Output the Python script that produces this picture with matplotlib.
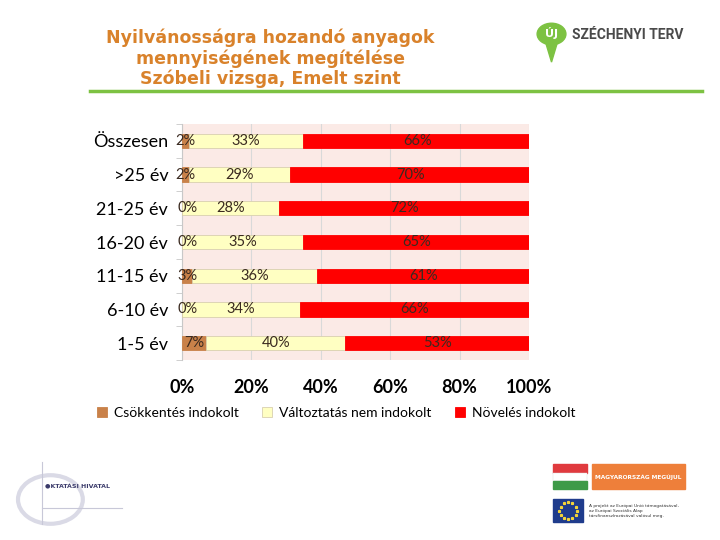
import matplotlib.pyplot as plt
import matplotlib.patches as mpatches
import numpy as np

categories = ["Összesen", ">25 év", "21-25 év", "16-20 év", "11-15 év", "6-10 év", "1-5 év"]
csokkentes = [2, 2, 0, 0, 3, 0, 7]
valtoztatas = [33, 29, 28, 35, 36, 34, 40]
noveles = [66, 70, 72, 65, 61, 66, 53]
series_names = ["Csökkentés indokolt", "Változtatás nem indokolt", "Növelés indokolt"]
xticks = [0, 20, 40, 60, 80, 100]

colors = ["#C98149", "#FFFFC2", "#FF0000"]
font = "Lato"

fig = plt.figure(figsize=(7.2, 5.4), dpi=100)
fig.patch.set_facecolor("white")

# title
fig.text(0.375, 0.892, "Nyilvánosságra hozandó anyagok\nmennyiségének megítélése\nSzóbeli vizsga, Emelt szint",
         ha="center", va="center", fontsize=12.5, fontweight="bold", color="#D9822B",
         family="DejaVu Sans", linespacing=1.12)

# green rule
fig.add_artist(plt.Line2D([0.125, 0.975], [0.832, 0.832], color="#7DC242", lw=2.5))

# logo
fig.add_artist(mpatches.Circle((0.766, 0.937), 0.02, transform=fig.transFigure, color="#7DC242"))
fig.add_artist(mpatches.Polygon([[0.757, 0.925], [0.775, 0.925], [0.766, 0.885]], closed=True,
                                transform=fig.transFigure, color="#7DC242"))
fig.text(0.766, 0.938, "ÚJ", ha="center", va="center", color="white", fontsize=8, fontweight="bold")
fig.text(0.795, 0.935, "SZÉCHENYI TERV", ha="left", va="center", color="#4A4A4A",
         fontsize=10, fontweight="bold", family="Roboto")

ax = fig.add_axes([0.2528, 0.3333, 0.4819, 0.4371])
ax.set_facecolor("#FBEAE6")
y = np.arange(len(categories))[::-1]
h = 0.42
left = np.zeros(len(categories))
for vals, col, name in zip([csokkentes, valtoztatas, noveles], colors, series_names):
    vals = np.array(vals, dtype=float)
    ax.barh(y, vals, left=left, height=h, color=col, edgecolor="#D8D0B0" if col == "#FFFFC2" else col,
            linewidth=0.6, label=name, zorder=3)
    for yi, v, l in zip(y, vals, left):
        cx = l + v / 2 if v > 0 else 1.5
        ax.text(cx, yi, f"{int(v)}%", ha="center", va="center", fontsize=10.5,
                color="#3A2A20", family=font, zorder=4)
    left += vals

ax.set_xlim(0, 100)
ax.set_ylim(-0.5, len(categories) - 0.5)
ax.set_xticks(xticks)
ax.set_xticklabels([f"{t}%" for t in xticks], fontsize=13, fontweight="bold", family=font)
ax.set_yticks(y)
ax.set_yticklabels(categories, fontsize=13, family=font)
ax.set_yticks(np.arange(-0.5, len(categories)), minor=True)
ax.tick_params(axis="x", length=0, pad=14)
ax.tick_params(axis="y", which="major", length=0, pad=10)
ax.tick_params(axis="y", which="minor", length=4, color="#C8C8C8")
ax.grid(axis="x", color="#D9D9D9", lw=0.8, zorder=0)
for s in ["top", "right", "bottom"]:
    ax.spines[s].set_visible(False)
ax.spines["left"].set_color("#C8C8C8")

leg = fig.legend(loc="center", bbox_to_anchor=(0.467, 0.235), ncol=3, frameon=False,
                 prop={"family": font, "size": 10}, handlelength=0.7, handleheight=0.7,
                 columnspacing=1.7, handletextpad=0.5)

# bottom logos (simplified)
fig.add_artist(mpatches.Circle((0.07, 0.075), 0.045, transform=fig.transFigure, fill=False,
                               ec="#DADAE6", lw=3))
fig.add_artist(plt.Line2D([0.058, 0.058], [0.03, 0.145], color="#C8C8D8", lw=0.8))
fig.add_artist(plt.Line2D([0.058, 0.17], [0.06, 0.06], color="#C8C8D8", lw=0.8))
fig.text(0.062, 0.1, "●KTATÁSI HIVATAL", fontsize=4.5, color="#3A3A6A", fontweight="bold", va="center")

fig.add_artist(mpatches.Rectangle((0.768, 0.125), 0.047, 0.015, transform=fig.transFigure, color="#E03A3E"))
fig.add_artist(mpatches.Rectangle((0.768, 0.11), 0.047, 0.015, transform=fig.transFigure, color="white", ec="#DDDDDD", lw=0.3))
fig.add_artist(mpatches.Rectangle((0.768, 0.095), 0.047, 0.015, transform=fig.transFigure, color="#3E9A48"))
fig.add_artist(mpatches.Rectangle((0.822, 0.095), 0.13, 0.045, transform=fig.transFigure, color="#EE7F3A"))
fig.text(0.887, 0.117, "MAGYARORSZÁG MEGÚJUL", ha="center", va="center", fontsize=4.2,
         color="white", fontweight="bold")
fig.add_artist(mpatches.Rectangle((0.768, 0.033), 0.042, 0.042, transform=fig.transFigure, color="#1F3C8C"))
ang = np.linspace(0, 2 * np.pi, 13)[:-1]
fig.add_artist(plt.Line2D(0.789 + 0.012 * np.cos(ang), 0.054 + 0.016 * np.sin(ang), ls="none",
                          marker="*", ms=2, color="#F2D33A"))
fig.text(0.818, 0.054, "A projekt az Európai Unió támogatásával,\naz Európai Szociális Alap\ntársfinanszírozásával valósul meg.",
         ha="left", va="center", fontsize=3.2, color="#333333", linespacing=1.3)

fig.savefig("out.png", dpi=100)
